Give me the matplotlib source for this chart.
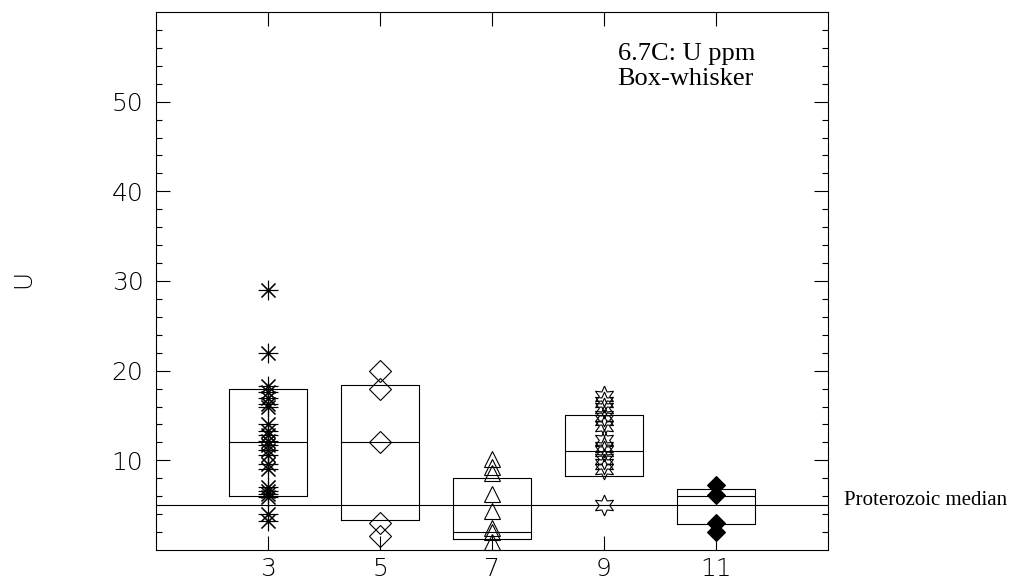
"""U ppm box-whisker by group, with the Proterozoic median drawn across."""
import matplotlib
matplotlib.use("Agg")
import matplotlib.pyplot as plt
import numpy as np


# group positions on the x axis
groups = [3, 5, 7, 9, 11]

# individual U values (ppm) per group
u_g3 = [29.0, 22.0, 18.3, 17.6, 16.9, 16.3, 15.9, 14.1, 13.3, 12.8, 12.2,
        11.7, 11.1, 10.6, 9.6, 9.0, 7.0, 6.6, 6.2, 5.9, 4.0, 3.2]
u_g5 = [20.0, 18.0, 12.0, 3.0, 1.6]
u_g7 = [10.2, 9.3, 8.6, 6.2, 4.3, 2.4, 2.0, 0.9]
u_g9 = [17.2, 16.5, 15.8, 15.0, 14.5, 13.8, 12.3, 11.5, 11.0, 10.2, 9.6, 9.0, 5.0]
u_g11 = [7.2, 6.1, 3.0, 2.0]

# box statistics: lower edge, median, upper edge
box_q1 = [6.0, 3.4, 1.2, 8.2, 2.9]
box_med = [12.0, 12.0, 2.0, 11.0, 6.0]
box_q3 = [17.9, 18.4, 8.0, 15.1, 6.8]

proterozoic_median = 5.0

SANS = "DejaVu Sans"
SERIF = "Liberation Serif"

fig = plt.figure(figsize=(10.15, 5.8), dpi=100)
ax = fig.add_axes([156 / 1015, 1 - 550 / 580, 672 / 1015, 538 / 580])

stats = []
for q1, med, q3 in zip(box_q1, box_med, box_q3):
    stats.append(dict(med=med, q1=q1, q3=q3, whislo=q1, whishi=q3, fliers=[]))
ax.bxp(stats, positions=groups, widths=1.4, showcaps=False, showfliers=False,
       boxprops=dict(color="black", lw=0.8),
       medianprops=dict(color="black", lw=0.8),
       whiskerprops=dict(color="black", lw=0.8),
       manage_ticks=False)

ax.axhline(proterozoic_median, color="black", lw=0.8)

mk = dict(ls="none", color="black", mew=0.8, clip_on=False)
ax.plot(np.full(len(u_g3), groups[0]), u_g3, marker=(8, 2, 0), ms=14, **mk)
ax.plot(np.full(len(u_g5), groups[1]), u_g5, marker="D", ms=11, mfc="none", **mk)
ax.plot(np.full(len(u_g7), groups[2]), u_g7, marker="^", ms=12, mfc="none", **mk)
ax.plot(np.full(len(u_g9), groups[3]), u_g9, marker=(6, 1, 0), ms=15, mfc="none", **mk)
ax.plot(np.full(len(u_g11), groups[4]), u_g11, marker="D", ms=9, mfc="black", **mk)

ax.set_xlim(1, 13)
ax.set_ylim(0, 60)
ax.set_xticks(groups)
ax.set_xticklabels([str(g) for g in groups])
ax.set_yticks([10, 20, 30, 40, 50])
ax.set_yticks([v for v in range(2, 60, 2) if v % 10], minor=True)
ax.tick_params(axis="both", which="both", direction="in", top=True, right=True,
               width=0.8, colors="black")
ax.tick_params(axis="both", which="major", length=10)
ax.tick_params(axis="y", which="minor", length=4.5)
ax.tick_params(axis="y", which="major", pad=9, labelsize=18)
ax.tick_params(axis="x", which="major", pad=5, labelsize=18)
for lab in ax.get_xticklabels() + ax.get_yticklabels():
    lab.set_family(SANS)
    lab.set_fontweight("light")
for sp in ax.spines.values():
    sp.set_linewidth(0.8)

# y title sits far out at the left edge
fig.text(23 / 1015, 1 - 279 / 580, "U", rotation=90, ha="center", va="center",
         fontsize=18, family=SANS, fontweight="light")

ax.text(0.687, 0.8643, "6.7C: U ppm\nBox-whisker", transform=ax.transAxes,
        family=SERIF, fontsize=19, ha="left", va="baseline", linespacing=1.15)

ax.text(1.024, proterozoic_median, "Proterozoic median",
        transform=ax.get_yaxis_transform(), family=SERIF, fontsize=15,
        ha="left", va="baseline", clip_on=False)

fig.savefig("out.png", dpi=100)
